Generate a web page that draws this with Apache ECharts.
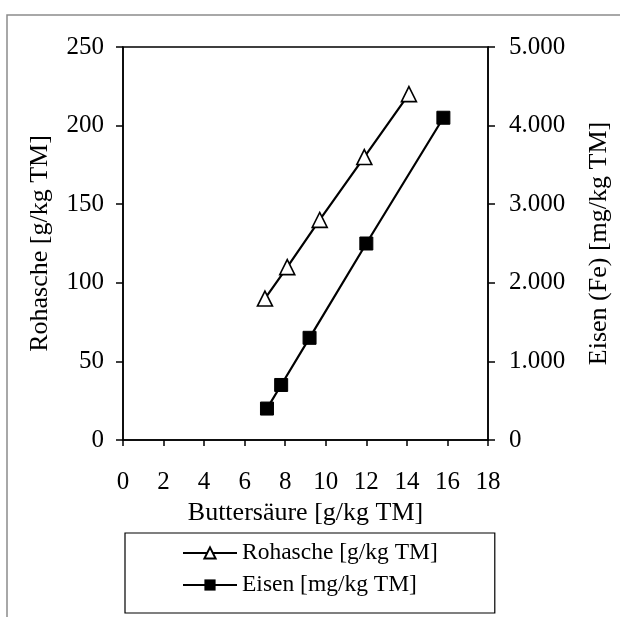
<!DOCTYPE html>
<html>
<head>
<meta charset="utf-8">
<script src="https://cdn.jsdelivr.net/npm/echarts@6/dist/echarts.min.js"></script>
<style>
  html, body { margin: 0; padding: 0; background: #fff; }
  #chart { width: 620px; height: 617px; }
</style>
</head>
<body>
<div id="chart"></div>
<script>
// Buttersäure vs. Rohasche / Eisen
const seriesNames = ['Rohasche [g/kg TM]', 'Eisen [mg/kg TM]'];
const rohascheX = [7.0, 8.1, 9.7, 11.9, 14.1];
const rohascheY = [90, 110, 140, 180, 220];
const eisenX = [7.1, 7.8, 9.2, 12.0, 15.8];
const eisenY = [400, 700, 1300, 2500, 4100];

const font = 'Liberation Serif';

const chart = echarts.init(document.getElementById('chart'));

const option = {
  animation: false,
  backgroundColor: '#fff',
  textStyle: { fontFamily: font, color: '#000' },
  graphic: [{
    // outer frame, cut off at right and bottom like the original
    type: 'rect',
    shape: { x: 7, y: 15, width: 700, height: 700 },
    style: { fill: 'none', stroke: '#8c8c8c', lineWidth: 1.5 },
    silent: true
  }],
  grid: {
    left: 123, right: 130, top: 47, bottom: 177,
    show: true, borderColor: '#000', borderWidth: 1.5, backgroundColor: 'transparent'
  },
  legend: {
    orient: 'vertical',
    left: 125, top: 533,
    padding: [8, 57, 16, 57],
    itemGap: 8,
    itemWidth: 54, itemHeight: 14,
    borderColor: '#000', borderWidth: 1.2,
    textStyle: { fontFamily: font, fontSize: 23.5, color: '#000' },
    data: seriesNames
  },
  xAxis: {
    type: 'value', min: 0, max: 18, interval: 2,
    name: 'Buttersäure [g/kg TM]', nameLocation: 'middle', nameGap: 54,
    nameTextStyle: { fontFamily: font, fontSize: 26, color: '#000' },
    axisLine: { lineStyle: { color: '#000', width: 1.5 } },
    axisTick: { inside: false, length: 6, lineStyle: { color: '#000', width: 1.5 } },
    axisLabel: { margin: 30, fontFamily: font, fontSize: 25, color: '#000' },
    splitLine: { show: false }
  },
  yAxis: [{
    type: 'value', min: 0, max: 250, interval: 50, position: 'left',
    name: 'Rohasche [g/kg TM]', nameLocation: 'middle', nameGap: 70, nameRotate: 90,
    nameTextStyle: { fontFamily: font, fontSize: 26, color: '#000' },
    axisLine: { show: true, lineStyle: { color: '#000', width: 1.5 } },
    axisTick: { show: true, length: 7, lineStyle: { color: '#000', width: 1.5 } },
    axisLabel: { margin: 19, fontFamily: font, fontSize: 25, color: '#000' },
    splitLine: { show: false }
  }, {
    type: 'value', min: 0, max: 5000, interval: 1000, position: 'right',
    name: 'Eisen (Fe) [mg/kg TM]', nameLocation: 'middle', nameGap: 98, nameRotate: 90,
    nameTextStyle: { fontFamily: font, fontSize: 26, color: '#000' },
    axisLine: { show: true, lineStyle: { color: '#000', width: 1.5 } },
    axisTick: { show: true, length: 7, lineStyle: { color: '#000', width: 1.5 } },
    axisLabel: {
      margin: 21, fontFamily: font, fontSize: 25, color: '#000',
      formatter: v => String(v).replace(/\B(?=(\d{3})+(?!\d))/g, '.')
    },
    splitLine: { show: false }
  }],
  series: [{
    name: seriesNames[0],
    type: 'line',
    yAxisIndex: 0,
    data: rohascheX.map((x, i) => [x, rohascheY[i]]),
    symbol: 'triangle', symbolSize: 15,
    itemStyle: { color: '#fff', borderColor: '#000', borderWidth: 1.6 },
    lineStyle: { color: '#000', width: 2.2 }
  }, {
    name: seriesNames[1],
    type: 'line',
    yAxisIndex: 1,
    data: eisenX.map((x, i) => [x, eisenY[i]]),
    symbol: 'rect', symbolSize: 13,
    itemStyle: { color: '#000', borderColor: '#000' },
    lineStyle: { color: '#000', width: 2.2 }
  }]
};

chart.setOption(option);
</script>
</body>
</html>
